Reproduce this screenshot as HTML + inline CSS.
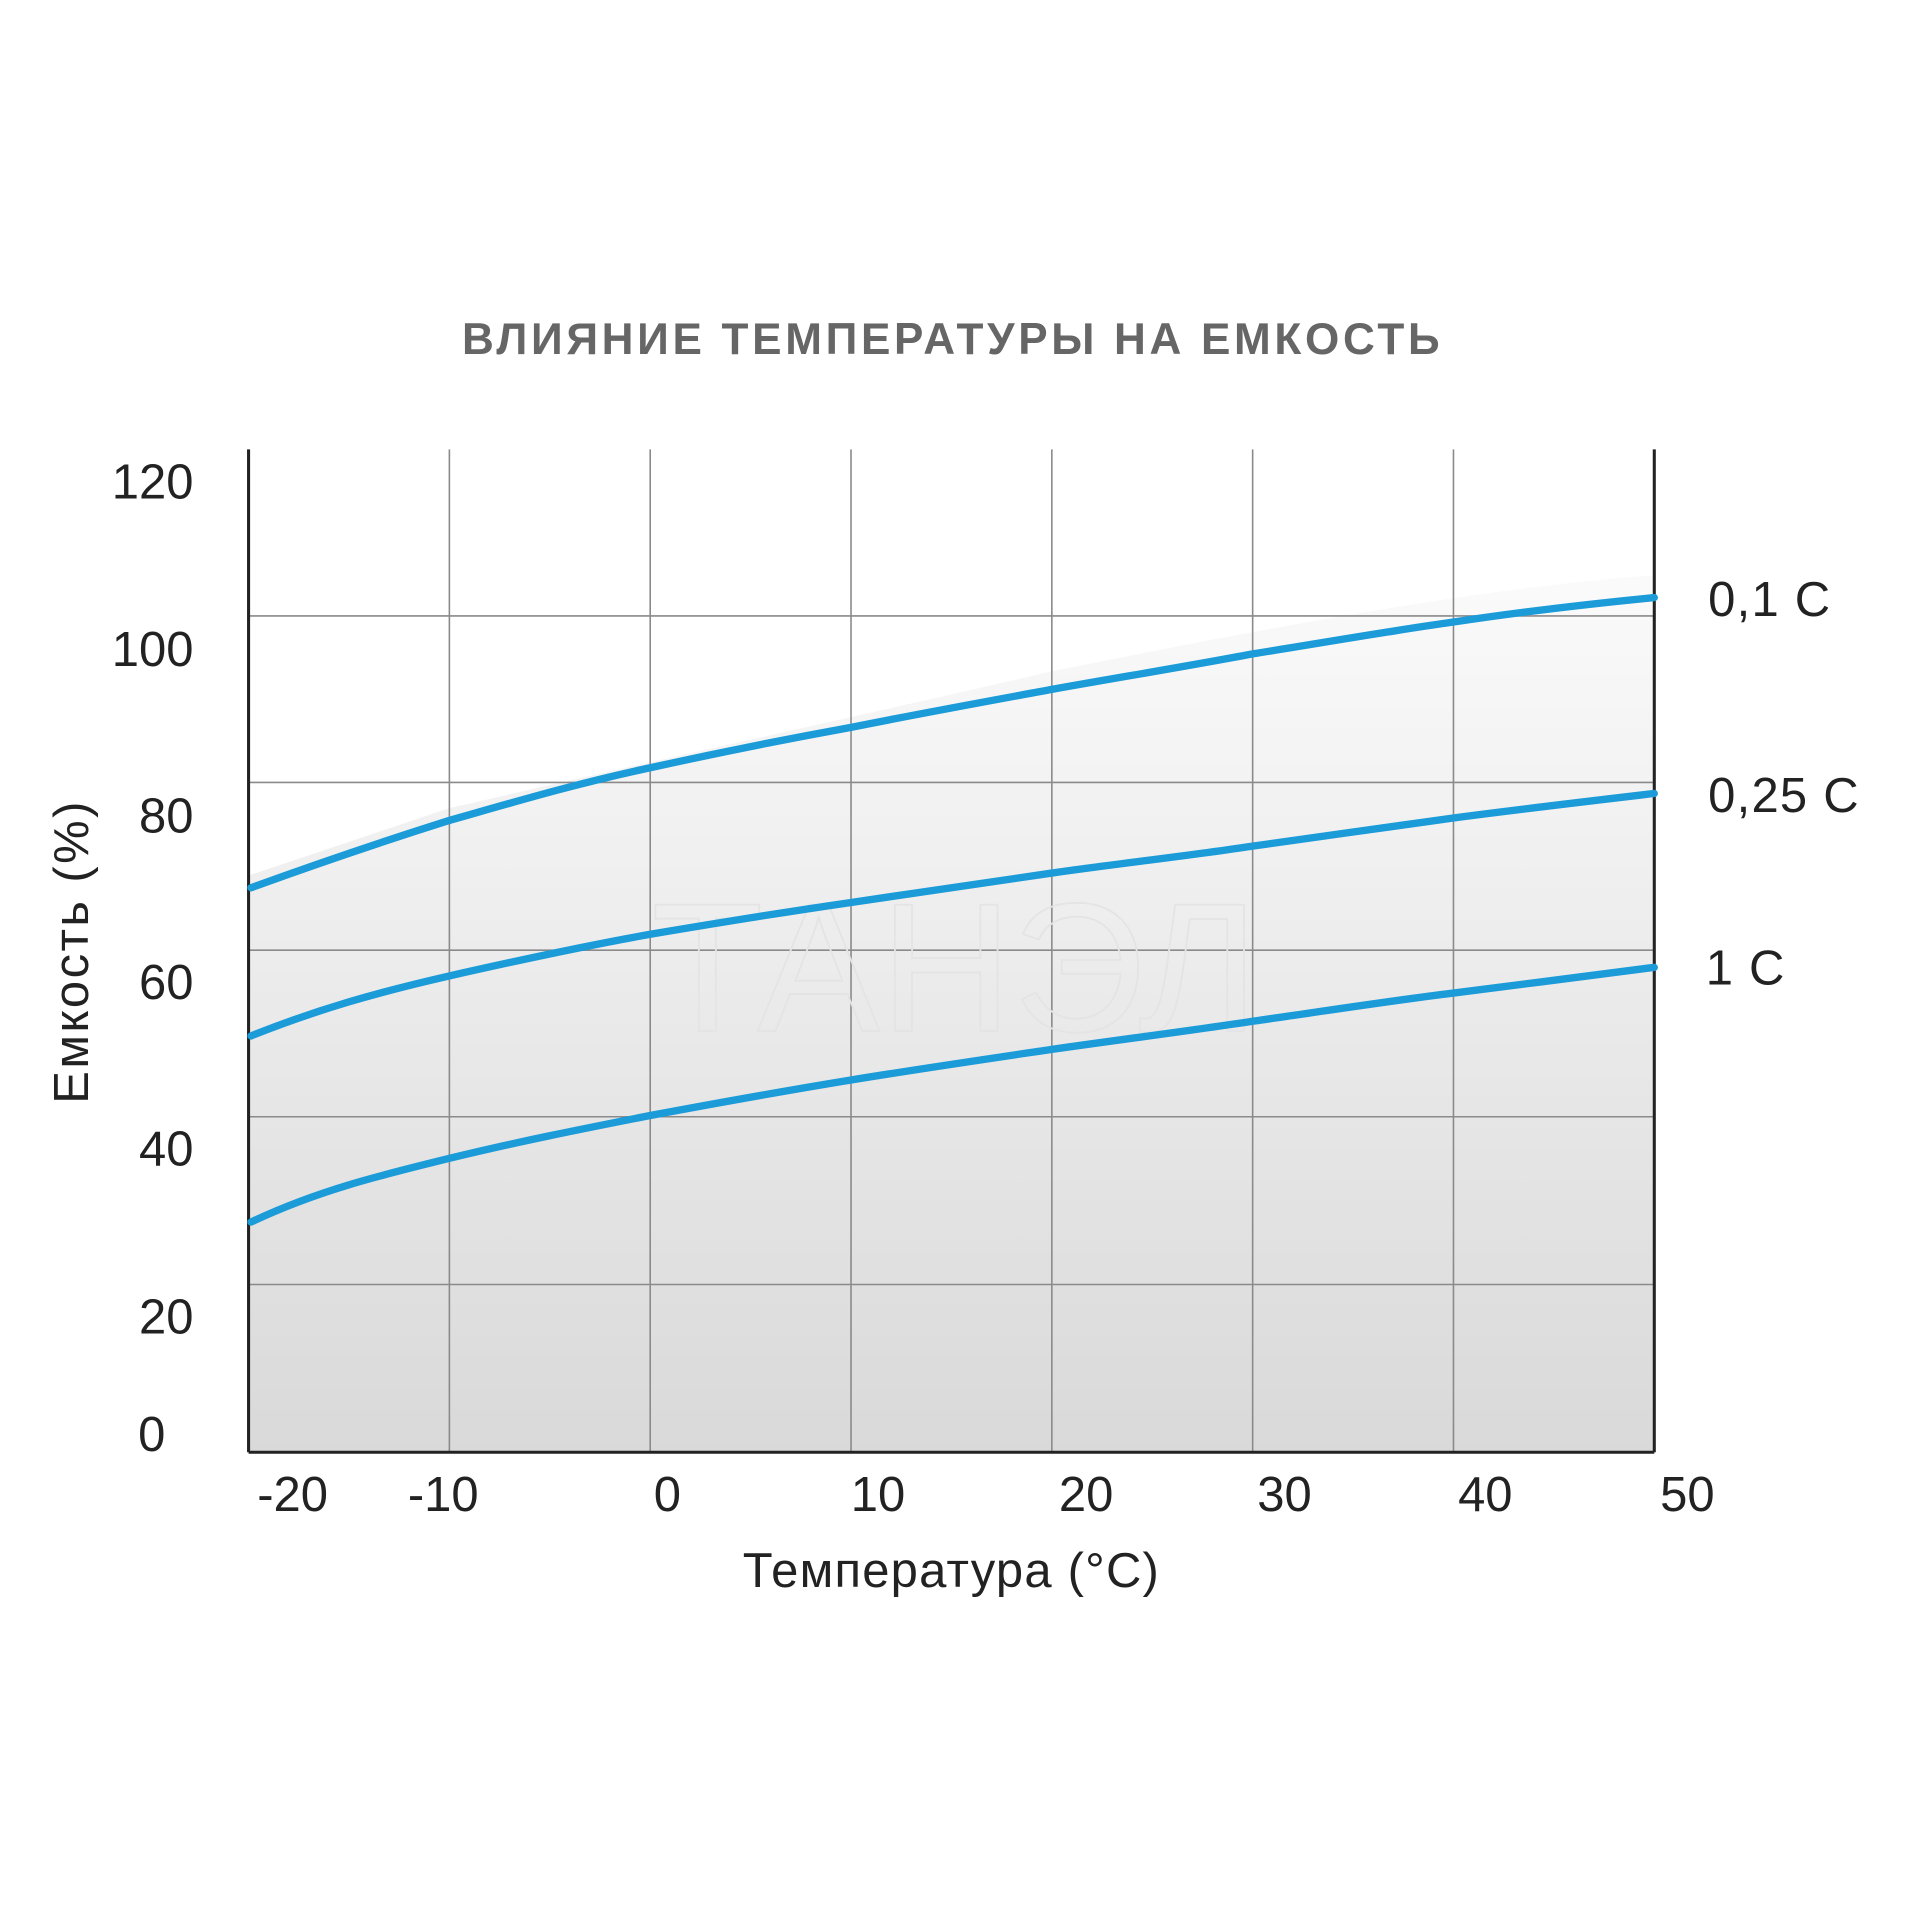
<!DOCTYPE html>
<html><head><meta charset="utf-8"><style>
html,body{margin:0;padding:0;background:#fff;width:1920px;height:1920px;overflow:hidden}
svg{display:block}
text{font-family:"Liberation Sans","DejaVu Sans",sans-serif}
</style></head><body>
<svg width="1920" height="1920" viewBox="0 0 1568 1568" xmlns="http://www.w3.org/2000/svg">
<defs>
<linearGradient id="bg" x1="0" y1="0" x2="0" y2="1">
<stop offset="0" stop-color="#ffffff"/>
<stop offset="0.35" stop-color="#f2f2f2"/>
<stop offset="1" stop-color="#d9d9d9"/>
</linearGradient>
</defs>
<text x="778" y="289" text-anchor="middle" font-size="36" font-weight="bold" fill="#666" letter-spacing="3">ВЛИЯНИЕ ТЕМПЕРАТУРЫ НА ЕМКОСТЬ</text>
<rect x="203" y="367" width="1148" height="819" fill="url(#bg)"/>
<path d="M203,367 L1351,367 L1351,470 C1200,480 1000,520 860,548 C700,585 540,620 367,660 L203,715 Z" fill="#fff"/>
<g stroke="#8a8a8a" stroke-width="1.3">
<line x1="367" y1="367" x2="367" y2="1186"/><line x1="531" y1="367" x2="531" y2="1186"/>
<line x1="695" y1="367" x2="695" y2="1186"/><line x1="859" y1="367" x2="859" y2="1186"/>
<line x1="1023" y1="367" x2="1023" y2="1186"/><line x1="1187" y1="367" x2="1187" y2="1186"/>
<line x1="203" y1="503" x2="1351" y2="503"/><line x1="203" y1="639" x2="1351" y2="639"/>
<line x1="203" y1="776" x2="1351" y2="776"/><line x1="203" y1="912" x2="1351" y2="912"/>
<line x1="203" y1="1049" x2="1351" y2="1049"/>
</g>
<g stroke="#222" stroke-width="2.5" fill="none">
<line x1="203" y1="367" x2="203" y2="1186"/><line x1="1351" y1="367" x2="1351" y2="1186"/>
<line x1="203" y1="1186" x2="1351" y2="1186"/>
</g>
<text x="780" y="842" text-anchor="middle" font-size="150" fill="none" stroke="#e4e4e4" stroke-width="1.5">ТАНЭЛ</text>
<g fill="none" stroke="#1b9bd8" stroke-width="6" stroke-linecap="round">
<path d="M205,725 C260,705 310,688 367,670 C420,655 470,640 531,627 C590,614 640,604 695,594 C750,583 805,573 859,563 C915,553 970,544 1023,534 C1080,525 1130,516 1187,508 C1240,500 1300,493 1351,488"/>
<path d="M205,846 C260,824 310,810 367,797 C420,785 475,773 531,763 C590,753 640,745 695,737 C750,729 805,721 859,713 C915,705 970,699 1023,691 C1080,683 1130,676 1187,668 C1240,661 1300,654 1351,648"/>
<path d="M205,998 C260,972 310,960 367,946 C420,933 475,922 531,911 C590,900 640,891 695,882 C750,873 805,865 859,857 C915,849 970,842 1023,834 C1080,826 1130,818 1187,811 C1240,804 1300,797 1351,790"/>
</g>
<g font-size="40" fill="#222">
<text x="158" y="407" text-anchor="end">120</text>
<text x="158" y="544" text-anchor="end">100</text>
<text x="158" y="680" text-anchor="end">80</text>
<text x="158" y="816" text-anchor="end">60</text>
<text x="158" y="952" text-anchor="end">40</text>
<text x="158" y="1089" text-anchor="end">20</text>
<text x="135" y="1185" text-anchor="end">0</text>
<text x="239" y="1234" text-anchor="middle">-20</text>
<text x="362" y="1234" text-anchor="middle">-10</text>
<text x="545" y="1234" text-anchor="middle">0</text>
<text x="717" y="1234" text-anchor="middle">10</text>
<text x="887" y="1234" text-anchor="middle">20</text>
<text x="1049" y="1234" text-anchor="middle">30</text>
<text x="1213" y="1234" text-anchor="middle">40</text>
<text x="1378" y="1234" text-anchor="middle">50</text>
<text x="1395" y="503" letter-spacing="1">0,1 C</text>
<text x="1395" y="663" letter-spacing="1">0,25 C</text>
<text x="1393" y="804" letter-spacing="1">1 C</text>
<text x="777" y="1296" text-anchor="middle" font-size="40" letter-spacing="1">Температура (°C)</text>
<text transform="translate(72,777) rotate(-90)" text-anchor="middle" font-size="40" letter-spacing="2">Емкость (%)</text>
</g>
</svg>
</body></html>
